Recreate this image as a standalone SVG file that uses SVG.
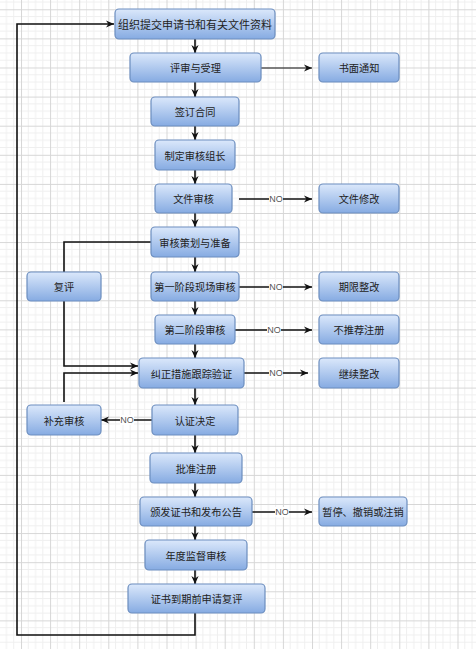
<svg xmlns="http://www.w3.org/2000/svg" width="476" height="649" viewBox="0 0 476 649">
<style>
.node rect{fill:url(#g);stroke:#6c8ebf;stroke-width:1.2}
.node text{font-family:"Noto Sans CJK SC","Noto Sans",sans-serif;font-size:10.2px;fill:#222;text-anchor:middle;dominant-baseline:central}
#n1 text{font-size:11px}
.c{fill:none;stroke:#111;stroke-width:1.6}
.thin{stroke-width:1}
.lbl{font-family:"Liberation Sans",Arial,sans-serif;font-size:9px;fill:#555;text-anchor:middle;dominant-baseline:central}
.lblbg{fill:#fff}
</style>
<defs>
<linearGradient id="g" x1="0" y1="0" x2="0" y2="1">
<stop offset="0" stop-color="#dbe8fb"/>
<stop offset="1" stop-color="#86abe2"/>
</linearGradient>
<pattern id="grid" patternUnits="userSpaceOnUse" x="21" y="9.3" width="29.1" height="29.1">
<path d="M7.28,0V29.1M14.55,0V29.1M21.83,0V29.1M0,7.28H29.1M0,14.55H29.1M0,21.83H29.1" stroke="#efefef" stroke-width="1" fill="none"/>
<path d="M0.5,0V29.1M0,0.5H29.1" stroke="#d6d6d6" stroke-width="1" fill="none"/>
</pattern>
<marker id="arr" viewBox="0 0 10 10" refX="10" refY="5" markerWidth="8" markerHeight="8" markerUnits="userSpaceOnUse" orient="auto">
<path d="M0,0.5L10,5L0,9.5L3,5Z" fill="#111"/>
</marker>
</defs>
<rect x="0" y="0" width="476" height="649" fill="#fff"/>
<rect x="0" y="0" width="476" height="649" fill="url(#grid)"/>

<g id="connectors">
<path class="c" d="M195,39V53" marker-end="url(#arr)"/>
<path class="c" d="M195,82V97" marker-end="url(#arr)"/>
<path class="c" d="M195,126V140" marker-end="url(#arr)"/>
<path class="c" d="M195,170V184" marker-end="url(#arr)"/>
<path class="c" d="M195,213V227" marker-end="url(#arr)"/>
<path class="c" d="M195,257V272" marker-end="url(#arr)"/>
<path class="c" d="M195,301V315" marker-end="url(#arr)"/>
<path class="c" d="M195,344V358" marker-end="url(#arr)"/>
<path class="c" d="M195,388V405" marker-end="url(#arr)"/>
<path class="c" d="M195,435V453" marker-end="url(#arr)"/>
<path class="c" d="M195,483V497" marker-end="url(#arr)"/>
<path class="c" d="M195,526V540" marker-end="url(#arr)"/>
<path class="c" d="M195,570V584" marker-end="url(#arr)"/>
<path class="c thin" d="M261,68H312" marker-end="url(#arr)"/>
<path class="c" d="M239,199H312" marker-end="url(#arr)"/>
<path class="c" d="M151,242H64V272"/>
<path class="c" d="M64,301V366H138" marker-end="url(#arr)"/>
<path class="c" d="M239,287H312" marker-end="url(#arr)"/>
<path class="c" d="M235,330H312" marker-end="url(#arr)"/>
<path class="c" d="M244,373H308" marker-end="url(#arr)"/>
<path class="c" d="M152,420H101" marker-end="url(#arr)"/>
<path class="c" d="M64,402V373H138" marker-end="url(#arr)"/>
<path class="c" d="M252,512H312" marker-end="url(#arr)"/>
<path class="c" d="M195,613V635H17V24H114" marker-end="url(#arr)"/>
<rect class="lblbg" x="269" y="194" width="14" height="10"/><text class="lbl" x="276" y="199">NO</text>
<rect class="lblbg" x="269" y="282" width="14" height="10"/><text class="lbl" x="276" y="287">NO</text>
<rect class="lblbg" x="267" y="325" width="14" height="10"/><text class="lbl" x="274" y="330">NO</text>
<rect class="lblbg" x="269" y="368" width="14" height="10"/><text class="lbl" x="276" y="373">NO</text>
<rect class="lblbg" x="120" y="415" width="14" height="10"/><text class="lbl" x="127" y="420">NO</text>
<rect class="lblbg" x="275" y="507" width="14" height="10"/><text class="lbl" x="282" y="512">NO</text>
</g>

<g id="n1" class="node"><rect x="115" y="9" width="160" height="30" rx="4"/><text x="195" y="24">组织提交申请书和有关文件资料</text></g>
<g id="n2" class="node"><rect x="130" y="53" width="131" height="29" rx="4"/><text x="195.5" y="67.5">评审与受理</text></g>
<g id="n3" class="node"><rect x="319" y="53" width="80" height="29" rx="4"/><text x="359" y="67.5">书面通知</text></g>
<g id="n4" class="node"><rect x="151" y="97" width="88" height="29" rx="4"/><text x="195" y="111.5">签订合同</text></g>
<g id="n5" class="node"><rect x="155" y="140" width="80" height="30" rx="4"/><text x="195" y="155">制定审核组长</text></g>
<g id="n6" class="node"><rect x="155" y="184" width="77" height="29" rx="4"/><text x="193.5" y="198.5">文件审核</text></g>
<g id="n7" class="node"><rect x="319" y="184" width="80" height="29" rx="4"/><text x="359" y="198.5">文件修改</text></g>
<g id="n8" class="node"><rect x="151" y="227" width="88" height="30" rx="4"/><text x="195" y="242">审核策划与准备</text></g>
<g id="n9" class="node"><rect x="27" y="272" width="74" height="29" rx="4"/><text x="64" y="286.5">复评</text></g>
<g id="n10" class="node"><rect x="151" y="272" width="88" height="29" rx="4"/><text x="195" y="286.5">第一阶段现场审核</text></g>
<g id="n11" class="node"><rect x="319" y="272" width="80" height="29" rx="4"/><text x="359" y="286.5">期限整改</text></g>
<g id="n12" class="node"><rect x="155" y="315" width="80" height="29" rx="4"/><text x="195" y="329.5">第二阶段审核</text></g>
<g id="n13" class="node"><rect x="319" y="315" width="80" height="29" rx="4"/><text x="359" y="329.5">不推荐注册</text></g>
<g id="n14" class="node"><rect x="139" y="358" width="105" height="30" rx="4"/><text x="191.5" y="373">纠正措施跟踪验证</text></g>
<g id="n15" class="node"><rect x="319" y="358" width="80" height="30" rx="4"/><text x="359" y="373">继续整改</text></g>
<g id="n16" class="node"><rect x="152" y="405" width="86" height="30" rx="4"/><text x="195" y="420">认证决定</text></g>
<g id="n17" class="node"><rect x="27" y="405" width="74" height="30" rx="4"/><text x="64" y="420">补充审核</text></g>
<g id="n18" class="node"><rect x="150" y="453" width="92" height="30" rx="4"/><text x="196" y="468">批准注册</text></g>
<g id="n19" class="node"><rect x="140" y="497" width="112" height="29" rx="4"/><text x="196" y="511.5">颁发证书和发布公告</text></g>
<g id="n20" class="node"><rect x="319" y="497" width="88" height="29" rx="4"/><text x="363" y="511.5">暂停、撤销或注销</text></g>
<g id="n21" class="node"><rect x="145" y="540" width="102" height="30" rx="4"/><text x="196" y="555">年度监督审核</text></g>
<g id="n22" class="node"><rect x="128" y="584" width="137" height="29" rx="4"/><text x="196.5" y="598.5">证书到期前申请复评</text></g>
</svg>
